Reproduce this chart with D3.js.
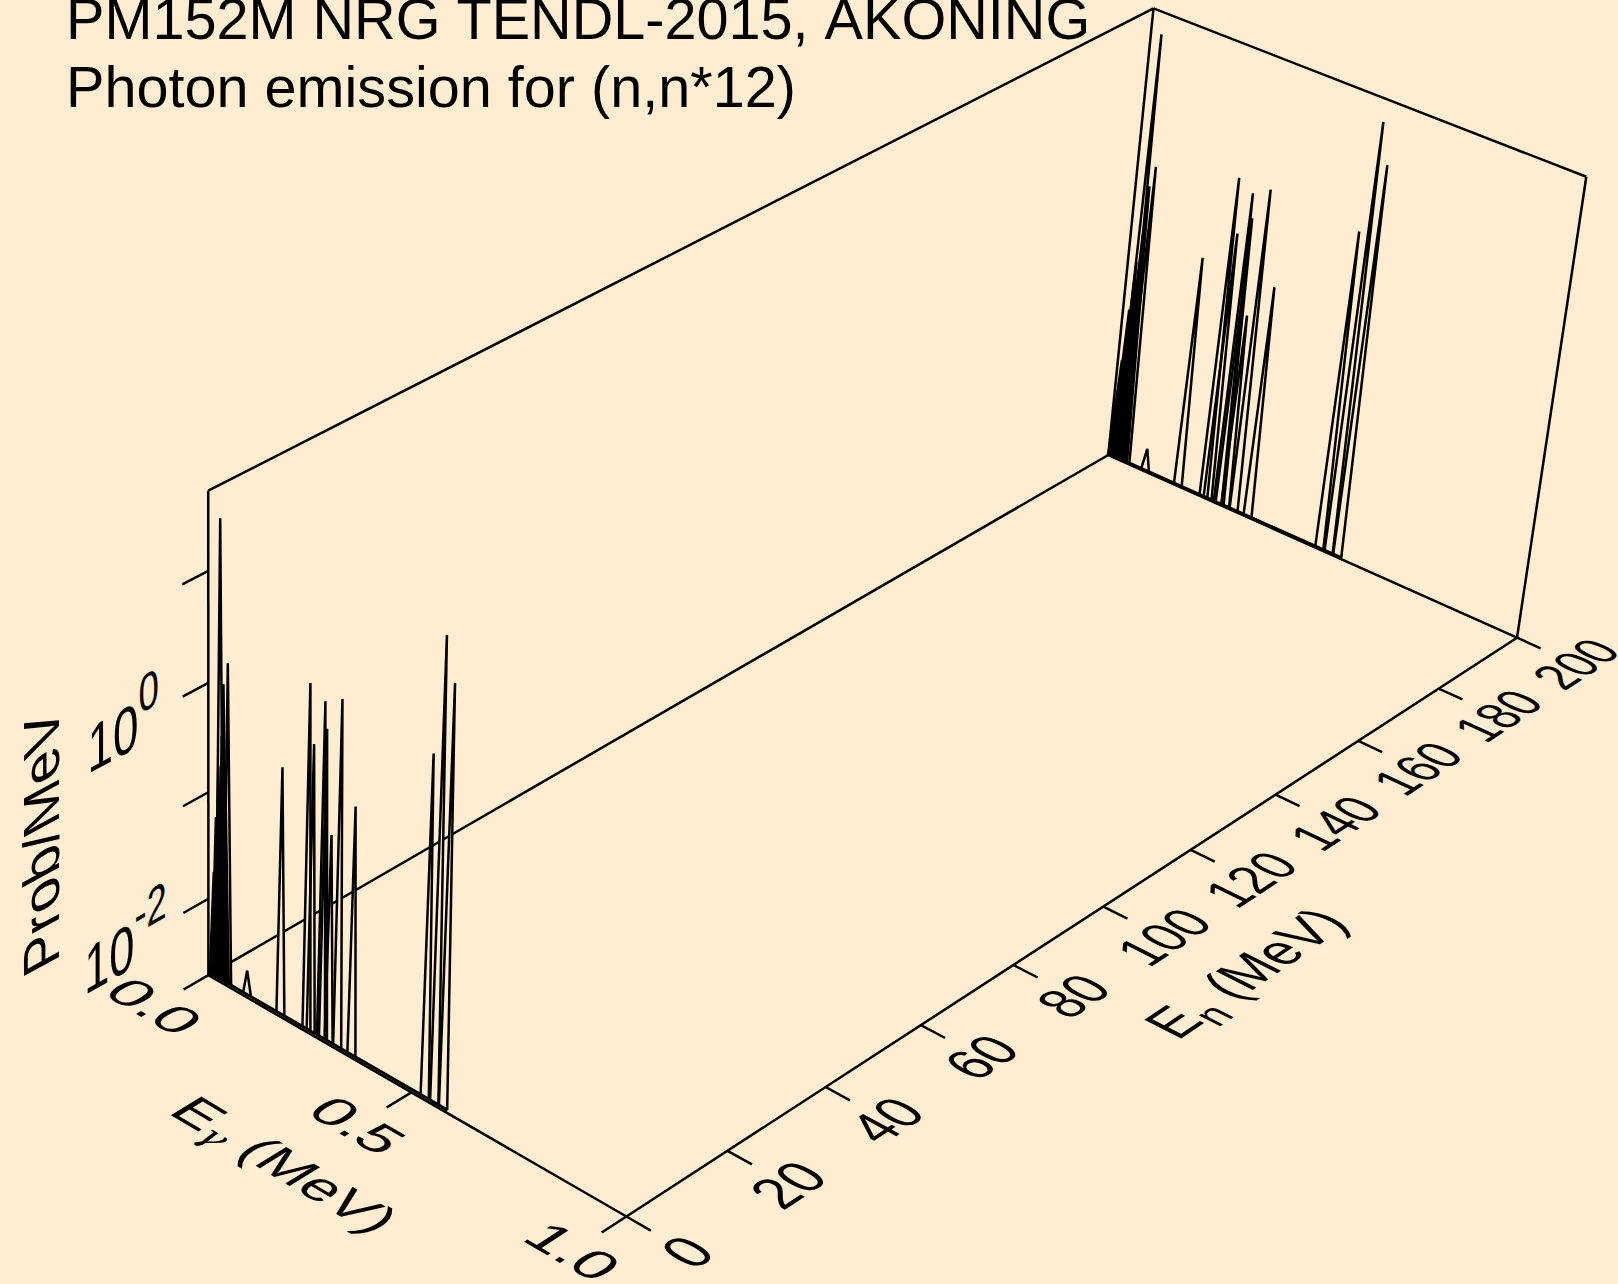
<!DOCTYPE html>
<html><head><meta charset="utf-8">
<script src="https://cdn.jsdelivr.net/npm/d3@7"></script>
<style>
html,body{margin:0;padding:0;background:#ffedd1;overflow:hidden}
svg{display:block}
text{font-family:"Liberation Sans",Arial,sans-serif;fill:#000;font-kerning:none}
</style></head><body>
<svg id="c" width="1618" height="1284"></svg>
<script>
// ---- data ----
const titleLines = ["PM152M NRG TENDL-2015, AKONING", "Photon emission for (n,n*12)"];
const wallEnergies = [0, 199.6];                     // En of the two spectra (MeV)
const wallFactor = [0.96, 0.94];                     // reading of the peak heights on each wall
const peakEnergy = [0.0135,0.0187,0.0225,0.0246,0.0286,0.033,0.037,0.0415,0.0475,0.0974,0.1805,0.2449,0.2553,0.2806,0.2855,0.2993,0.3203,0.355,0.5316,0.5543,0.5752];
const peakProb   = [0.02,0.067,0.05,0.205,34,0.4,1.2,0.2,1.94,0.0035,0.413,3.17,0.95,2.57,1.5,0.176,3.24,0.417,2.85,33.5,14.3];
const peakHalfWidth = 0.0098;
const spectrumFloor = 0.00198;
const spectrumEnd = 0.586;
const gammaTicks = [0, 0.5, 1];
const gammaLabels = ["0.0", "0.5", "1.0"];
const neutronTicks = [0,20,40,60,80,100,120,140,160,180,200];
const probTicks = [0.01,0.1,1,10];
const probLabelled = [{v:0.01,exp:"-2"},{v:1,exp:"0"}];

// ---- scales ----
const gammaScale = d3.scaleLinear().domain([0,1]).range([0,1]);
const neutronScale = d3.scaleLinear().domain([0,200]).range([0,1]);
const probScale = d3.scaleLog().domain([0.00185,50]).range([0,1]);

// ---- projection of the unit box, from its corners on screen ----
const O=[208.4,975.2],A=[626.4,1216.5],B=[1108.3,455],C=[1517,637.7];
const Ot=[208.4,490],Bt=[1152.7,8.3],Ct=[1587,177.5];
function buildProjection(){
  const sx=O[0]-A[0]+C[0]-B[0], sy=O[1]-A[1]+C[1]-B[1];
  const dx1=A[0]-C[0],dx2=B[0]-C[0],dy1=A[1]-C[1],dy2=B[1]-C[1];
  const den=dx1*dy2-dx2*dy1;
  const g=(sx*dy2-dx2*sy)/den,h=(dx1*sy-sx*dy1)/den;
  const a=[A[0]-O[0]+g*A[0],A[1]-O[1]+g*A[1],g];
  const b=[B[0]-O[0]+h*B[0],B[1]-O[1]+h*B[1],h];
  const c=[O[0],O[1],1];
  const rows=[],rhs=[];
  [[Ot,[0,0]],[Bt,[0,1]],[Ct,[1,1]]].forEach(([p,[u,v]])=>{
    const X=a[0]*u+b[0]*v+c[0],Y=a[1]*u+b[1]*v+c[1],H=a[2]*u+b[2]*v+c[2];
    rows.push([1,0,-p[0]]);rhs.push(p[0]*H-X);
    rows.push([0,1,-p[1]]);rhs.push(p[1]*H-Y);
  });
  const N=[[0,0,0],[0,0,0],[0,0,0]],m=[0,0,0];
  rows.forEach((r,k)=>{for(let i=0;i<3;i++){m[i]+=r[i]*rhs[k];for(let j=0;j<3;j++)N[i][j]+=r[i]*r[j];}});
  const M=N.map((r,i)=>[...r,m[i]]);
  for(let i=0;i<3;i++){let p=i;for(let k=i+1;k<3;k++)if(Math.abs(M[k][i])>Math.abs(M[p][i]))p=k;[M[i],M[p]]=[M[p],M[i]];
    for(let k=0;k<3;k++)if(k!==i){const f=M[k][i]/M[i][i];for(let j=i;j<4;j++)M[k][j]-=f*M[i][j];}}
  const d=[M[0][3]/M[0][0],M[1][3]/M[1][1],M[2][3]/M[2][2]];
  return (u,v,w)=>{
    const H=a[2]*u+b[2]*v+d[2]*w+c[2];
    return [(a[0]*u+b[0]*v+d[0]*w+c[0])/H,(a[1]*u+b[1]*v+d[1]*w+c[1])/H];
  };
}
const P=buildProjection();
const pt=(e,n,p)=>P(gammaScale(e),neutronScale(n),probScale(p));

// ---- drawing ----
const svg=d3.select("#c");
svg.append("rect").attr("width",1618).attr("height",1284).attr("fill","#ffedd1");
const lineGen=d3.line();
const LW=2.5;
const stroke=(sel,w)=>sel.attr("fill","none").attr("stroke","#000").attr("stroke-width",w).attr("stroke-linejoin","bevel");

// box
const box=[[[0,0,0],[1,0,0]],[[1,0,0],[1,1,0]],[[0,0,0],[0,1,0]],[[0,1,0],[1,1,0]],
 [[0,0,0],[0,0,1]],[[0,1,0],[0,1,1]],[[1,1,0],[1,1,1]],[[0,0,1],[0,1,1]],[[0,1,1],[1,1,1]]];
stroke(svg.append("g").selectAll("path").data(box).join("path").attr("d",s=>lineGen(s.map(q=>P(...q)))),LW);

// ticks
const tickPaths=[];
gammaTicks.forEach(t=>{const u=gammaScale(t);tickPaths.push([P(u,0,0),P(u,-0.024,0)]);});
neutronTicks.forEach(t=>{const v=neutronScale(t);tickPaths.push([P(1,v,0),P(1.055,v,0)]);});
probTicks.forEach(t=>{const w=probScale(t);tickPaths.push([P(0,0,w),P(0,-0.024,w)]);});
stroke(svg.append("g").selectAll("path").data(tickPaths).join("path").attr("d",d=>lineGen(d)),LW);

// spectra on the two walls: first the hidden-line fills, then the strokes
wallEnergies.forEach((en,k)=>{
  const g=svg.append("g");
  const tri=(e,i)=>lineGen([pt(e-peakHalfWidth,en,spectrumFloor),pt(e,en,peakProb[i]*wallFactor[k]),pt(e+peakHalfWidth,en,spectrumFloor)]);
  peakEnergy.forEach((e,i)=>g.append("path").attr("d",tri(e,i)).attr("fill","#ffedd1"));
  stroke(g.append("path").attr("d",lineGen([pt(0,en,spectrumFloor),pt(spectrumEnd,en,spectrumFloor)])),3);
  peakEnergy.forEach((e,i)=>stroke(g.append("path").attr("d",tri(e,i)),LW));
});

// text
function unit(a,b){const dx=b[0]-a[0],dy=b[1]-a[1],l=Math.hypot(dx,dy);return [dx/l,dy/l];}
function skewed(pos,xd,yd,sx,sy){
  return svg.append("text").attr("text-anchor","middle").attr("dominant-baseline","central")
    .attr("font-size",10)
    .attr("transform",`matrix(${xd[0]*sx},${xd[1]*sx},${yd[0]*sy},${yd[1]*sy},${pos[0]},${pos[1]})`);
}
// Gamma energy labels lie in the floor: baseline along Egamma, up along En
gammaTicks.forEach((t,i)=>{
  const u=gammaScale(t),p=P(u,-0.052,0);
  const xd=unit(P(u-.05,-0.052,0),P(u+.05,-0.052,0)), yd=unit(P(u,-0.02,0),P(u,-0.1,0));
  skewed(p,xd,yd,6.25,5.2).text(gammaLabels[i]);
});
// En labels: baseline along En, up along -Egamma
neutronTicks.forEach(t=>{
  const v=neutronScale(t),p=P(1.137,v,0);
  const xd=unit(P(1.137,v-.05,0),P(1.137,v+.05,0)), yd=unit(P(1.08,v,0),P(1.2,v,0));
  skewed(p,xd,yd,5.3-1.05*v,6.2-0.6*v).text(t);
});
// Prob labels: baseline along En, up vertical
probLabelled.forEach(o=>{
  const w=probScale(o.v),p=P(0,-0.079,w-0.006);
  const xd=unit(P(0,-.1,w),P(0,-.05,w));
  const s=skewed(p,xd,[0,1],5.2,6.6);
  s.append("tspan").text("10");
  s.append("tspan").text(o.exp).attr("font-size",8).attr("dy",-4.2);
});
// axis titles
{
  const p=P(0.49,-0.117,0);
  const xd=unit(P(.42,-.117,0),P(.56,-.117,0)), yd=unit(P(.49,-.08,0),P(.49,-.18,0));
  const s=skewed(p,xd,yd,5.9,5.2);
  s.append("tspan").text("E");
  s.append("tspan").text("γ").attr("font-size",6.6).attr("dy",2.6).attr("font-family","DejaVu Serif").attr("font-style","italic");
  s.append("tspan").text(" (MeV)").attr("dy",-2.6);
}
{
  const p=P(1.31,0.505,0);
  const xd=unit(P(1.31,.45,0),P(1.31,.55,0)), yd=unit(P(1.25,.5,0),P(1.35,.5,0));
  const s=skewed(p,xd,yd,5.1,6);
  s.append("tspan").text("E");
  s.append("tspan").text("n").attr("font-size",7.5).attr("dy",3);
  s.append("tspan").text(" (MeV)").attr("dy",-3);
}
{
  const p=P(0,-0.155,0.477);
  const yd=unit(P(0,-.18,.477),P(0,-.12,.477));
  skewed(p,[0,-1],yd,5.8,5.8).text("Prob/MeV");
}
// title
titleLines.forEach((t,i)=>{
  svg.append("text").attr("x",66).attr("y",38.5+i*68).attr("font-size",57.6).text(t);
});
</script></body></html>
